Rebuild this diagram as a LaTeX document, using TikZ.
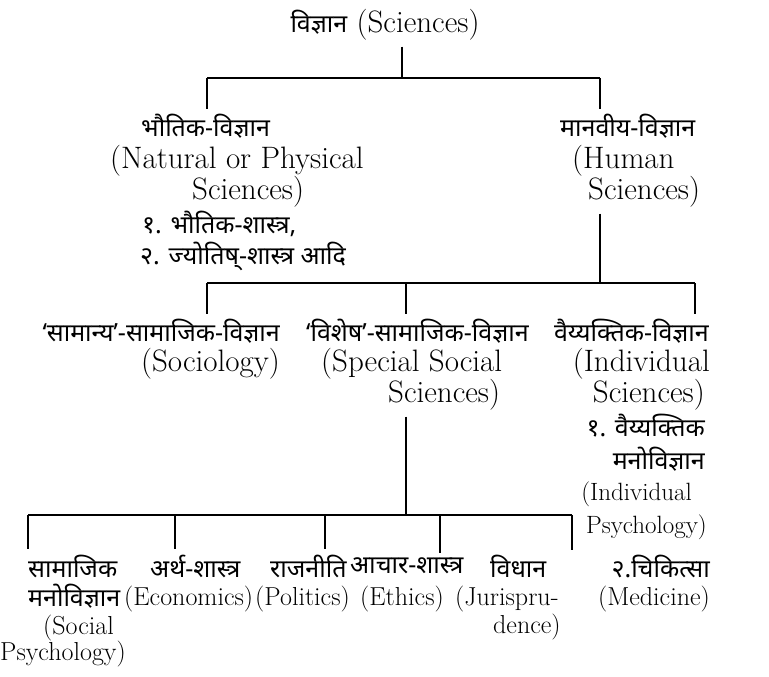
\documentclass[tikz,border=0pt]{standalone}
\usepackage{fontspec}
\newfontfamily\devfont[Script=Devanagari, BoldFeatures={FakeBold=0.8}]{Noto Sans}
\newcommand{\dvf}{\devfont\bfseries\fontsize{25}{25}\selectfont}
\newcommand{\enf}{\fontsize{31}{31}\selectfont}
\newcommand{\ens}{\fontsize{26}{26}\selectfont}
\newcommand{\enr}{\fontsize{25}{25}\selectfont}
\tikzset{
  dvt/.style={font=\dvf, inner sep=0pt},
  ent/.style={font=\enf, inner sep=0pt},
  enb/.style={font=\ens, inner sep=0pt},
  enr/.style={font=\enr, inner sep=0pt},
  vline/.style={line width=1.6pt},
  hbar/.style={line width=2.8pt},
}
\begin{document}
\begin{tikzpicture}[x=1pt,y=-1pt]
\useasboundingbox[fill=white] (0,0) rectangle (769,677);
% root
\node[ent] (root) at (385,25) {{\dvf विज्ञान} (Sciences)};
% level 1
\node[dvt, anchor=west] (bh)   at (141,126) {भौतिक-विज्ञान};
\node[ent, anchor=west] (nat)  at (110,161) {(Natural or Physical};
\node[ent, anchor=west] (sci1) at (192,192) {Sciences)};
\node[dvt, anchor=west] (bs1)  at (142,224) {१. भौतिक-शास्त्र,};
\node[dvt, anchor=west] (js)   at (140,256) {२. ज्योतिष्-शास्त्र आदि};
\node[dvt, anchor=west] (mv)   at (560,126) {मानवीय-विज्ञान};
\node[ent, anchor=west] (hum)  at (572,161) {(Human};
\node[ent, anchor=west] (sci2) at (588,192) {Sciences)};
% level 2
\node[dvt, anchor=east] (sam)  at (280,331) {‘सामान्य’-सामाजिक-विज्ञान};
\node[ent, anchor=east] (soc)  at (280,364) {(Sociology)};
\node[dvt, anchor=west] (vis)  at (306,331) {‘विशेष’-सामाजिक-विज्ञान};
\node[ent, anchor=west] (sps)  at (321,364) {(Special Social};
\node[ent, anchor=west] (sci3) at (388,395) {Sciences)};
\node[dvt, anchor=east] (vai)  at (709,331) {वैय्यक्तिक-विज्ञान};
\node[ent, anchor=east] (ind1) at (710,364) {(Individual};
\node[ent, anchor=east] (sci4) at (705,395) {Sciences)};
\node[dvt, anchor=east] (vm1)  at (705,426) {१. वैय्यक्तिक};
\node[dvt, anchor=east] (mano1) at (705,459) {मनोविज्ञान};
\node[enr, anchor=east] (ind2) at (692,494) {(Individual};
\node[enr, anchor=east] (psy1) at (707,527) {Psychology)};
% level 3
\node[dvt, anchor=west] (sm)   at (28,566) {सामाजिक};
\node[dvt, anchor=west] (mano2) at (28,596) {मनोविज्ञान};
\node[enb, anchor=west] (socl) at (43,628) {(Social};
\node[enb, anchor=west] (psy2) at (0,654) {Psychology)};
\node[dvt, anchor=west] (ar)   at (150,566) {अर्थ-शास्त्र};
\node[enb, anchor=west] (eco)  at (124,599) {(Economics)};
\node[dvt, anchor=west] (raj)  at (270,566) {राजनीति};
\node[enb, anchor=west] (pol)  at (255,599) {(Politics)};
\node[dvt, anchor=west] (ach)  at (350,566) {आचार-शास्त्र};
\node[enb, anchor=west] (eth)  at (360,599) {(Ethics)};
\node[dvt, anchor=west] (vid)  at (490,566) {विधान};
\node[enb, anchor=west] (jur)  at (455,599) {(Jurispru-};
\node[enb, anchor=west] (den)  at (493,627) {dence)};
\node[dvt, anchor=east] (chi)  at (710,566) {२.चिकित्सा};
\node[enb, anchor=east] (med)  at (710,599) {(Medicine)};
% junction coordinates
\coordinate (j1) at (402,78);
\coordinate (b1l) at (207,78);
\coordinate (b1r) at (600,78);
\coordinate (j2) at (600,283);
\coordinate (b2l) at (207,283);
\coordinate (b2m) at (406,283);
\coordinate (b2r) at (695,283);
\coordinate (j3) at (406,515);
\coordinate (b3a) at (28,515);
\coordinate (b3b) at (175,515);
\coordinate (b3c) at (325,515);
\coordinate (b3d) at (440,515);
\coordinate (b3e) at (572,515);
% connectors
\draw[vline] ([yshift=-6pt]j1 |- root.south) -- (j1);
\draw[hbar] (b1l) -- (b1r);
\draw[vline] (b1l) -- ([yshift=5pt]b1l |- bh.north);
\draw[vline] (b1r) -- ([yshift=5pt]b1r |- mv.north);
\draw[vline] ([yshift=-6pt]j2 |- sci2.south) -- (j2);
\draw[hbar] (b2l) -- (b2r);
\draw[vline] (b2l) -- ([yshift=5pt]b2l |- sam.north);
\draw[vline] (b2m) -- ([yshift=5pt]b2m |- vis.north);
\draw[vline] (b2r) -- ([yshift=5pt]b2r |- vai.north);
\draw[vline] ([yshift=-6pt]j3 |- sci3.south) -- (j3);
\draw[hbar] (b3a) -- (b3e);
\draw[vline] (b3a) -- ([yshift=5pt]b3a |- sm.north);
\draw[vline] (b3b) -- ([yshift=5pt]b3b |- ar.north);
\draw[vline] (b3c) -- ([yshift=5pt]b3c |- raj.north);
\draw[vline] (b3d) -- ([yshift=5pt]b3d |- ach.north);
\draw[vline] (b3e) -- ([yshift=5pt]b3e |- vid.north);
\end{tikzpicture}
\end{document}
